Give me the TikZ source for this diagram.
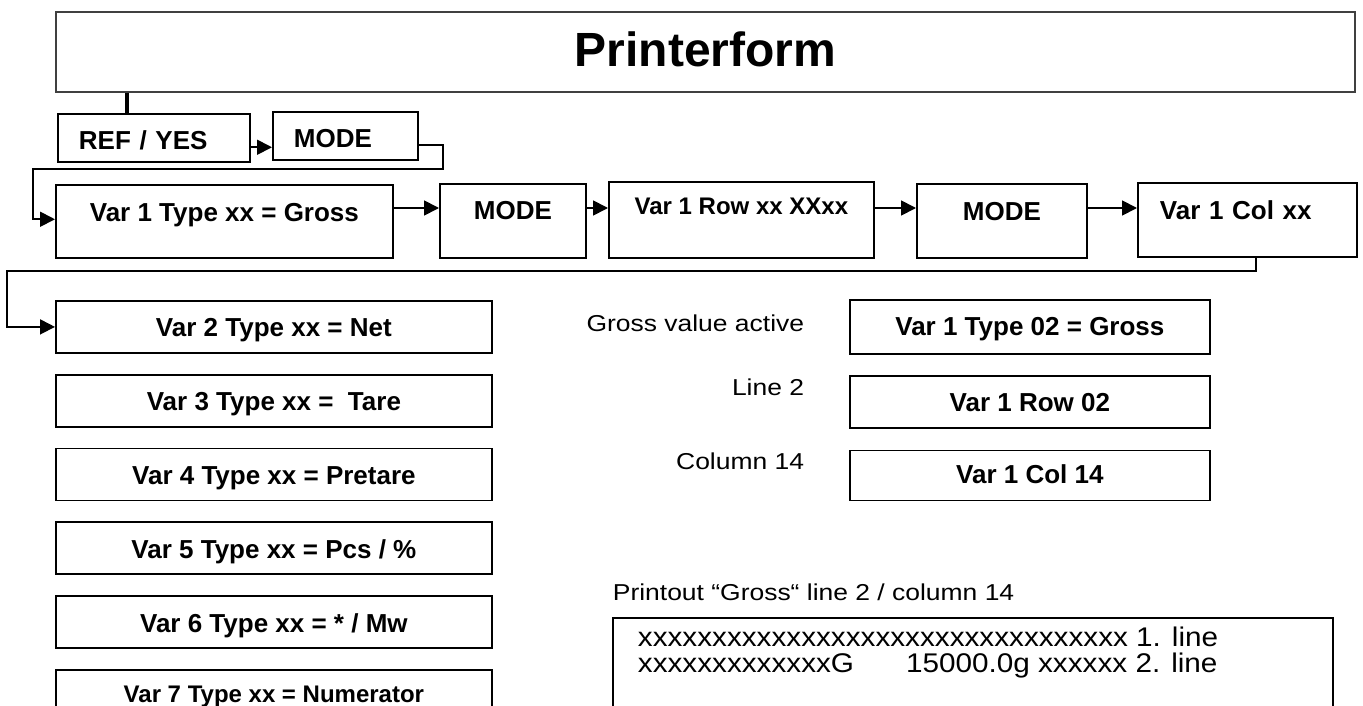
\documentclass[tikz,border=0pt]{standalone}
\usepackage{fontspec}
\setmainfont{Liberation Sans}
\newfontfamily\labelfont[FakeStretch=1.15]{Liberation Sans}
\newfontfamily\printfont[FakeStretch=1.1]{Liberation Sans}
\usetikzlibrary{positioning}
\usetikzlibrary{arrows.meta}

\begin{document}
\begin{tikzpicture}
    [
    x=1pt, y=-1pt,
    line width=1.8pt,
    >={Triangle[length=15pt,width=15pt]},
    flowbox/.style={draw,inner sep=0pt,anchor=north west,font=\bfseries\fontsize{26}{30}\selectfont},
    keybox/.style={flowbox,inner xsep=21pt,align=left},
    listbox/.style={flowbox,minimum width=436pt,text height=36pt,text depth=16pt},
    note/.style={inner sep=0pt,anchor=base east,font=\labelfont\fontsize{23}{27}\selectfont},
    printline/.style={inner sep=0pt,anchor=base west,font=\printfont\fontsize{27}{31}\selectfont},
    ]
    \clip (0,0) rectangle (1363,706);

    \node (title) at (55,11) [flowbox, draw=black!75, minimum width=1299pt, text height=55pt, text depth=25pt, font=\bfseries\fontsize{48}{56}\selectfont] {Printerform};
    \node (ref) at (57,113) [keybox, text width=150pt, text height=36pt, text depth=12pt] {REF / YES};
    \node (mode0) at (272,111) [keybox, text width=103pt, text height=36pt, text depth=12pt] {MODE};

    \node (type1) at (55,184) [flowbox, minimum width=337pt, text height=37pt, text depth=36pt] {Var 1 Type xx = Gross};
    \node (modeA) at (439,183) [flowbox, minimum width=146pt, text height=36pt, text depth=38pt] {MODE};
    \node (row) at (608,181) [flowbox, minimum width=265pt, text height=33pt, text depth=43pt, font=\bfseries\fontsize{24}{28}\selectfont] {Var 1 Row xx XXxx};
    \node (modeB) at (916,183) [flowbox, minimum width=170pt, text height=37pt, text depth=37pt] {MODE};
    \node (col) at (1137,182) [keybox, inner xsep=22pt, text width=175pt, text height=37pt, text depth=37pt] {Var 1 Col xx};

    \node (var2) at (55,300) [listbox] {Var 2 Type xx = Net};
    \node (var3) [listbox, below=20pt of var2] {Var 3 Type xx = \ Tare};
    \node (var4) [listbox, below=20pt of var3] {Var 4 Type xx = Pretare};
    \node (var5) [listbox, below=20pt of var4] {Var 5 Type xx = Pcs / \%};
    \node (var6) [listbox, below=20pt of var5] {Var 6 Type xx = * / Mw};
    \node (var7) [listbox, below=20pt of var6, text height=33pt, text depth=19pt, font=\bfseries\fontsize{24}{28}\selectfont] {Var 7 Type xx = Numerator};

    \node (type02) at (849,299) [listbox, minimum width=360pt, text height=36pt, text depth=18pt] {Var 1 Type 02 = Gross};
    \node (row02) [listbox, minimum width=360pt, below=20pt of type02] {Var 1 Row 02};
    \node (col14) [listbox, minimum width=360pt, below=21pt of row02, text height=33pt, text depth=17pt] {Var 1 Col 14};
    \node (active) at (805,331) [note] {Gross value active};
    \node (linelbl) at (805,395) [note] {Line 2};
    \node (columnlbl) at (805,469) [note] {Column 14};

    \node (caption) at (612,600) [note, anchor=base west] {Printout “Gross“ line 2 / column 14};
    \node (printout) at (612,617) [draw, inner sep=0pt, anchor=north west, minimum width=720pt, minimum height=110pt] {};
    \node (line1) at (637,646) [printline] {xxxxxxxxxxxxxxxxxxxxxxxxxxxxxxxxx 1. line};
    \node (line2) at (637,672) [printline] {xxxxxxxxxxxxxG\hspace{52pt}15000.0g xxxxxx 2. line};

    \coordinate (flow) at (0,208);
    \coordinate (c1) at (443,169);
    \coordinate (c2) at (33,169);
    \coordinate (c3) at (1256,271);
    \coordinate (c4) at (7,271);

    \draw [line width=4pt] (title.south -| 127,0) to (ref.north -| 127,0);
    \draw [->] (ref.mid east) to (ref.mid east -| mode0.west);
    \draw [->] (mode0.mid east) -| (c1) -- (c2) |- (type1.mid west);
    \draw [->] (type1.east |- flow) to (modeA.west |- flow);
    \draw [->] (modeA.east |- flow) to (row.west |- flow);
    \draw [->] (row.east |- flow) to (modeB.west |- flow);
    \draw [->] (modeB.east |- flow) to (col.west |- flow);
    \draw [->] (col.south -| c3) -- (c3) -- (c4) |- (var2.west);
\end{tikzpicture}
\end{document}
